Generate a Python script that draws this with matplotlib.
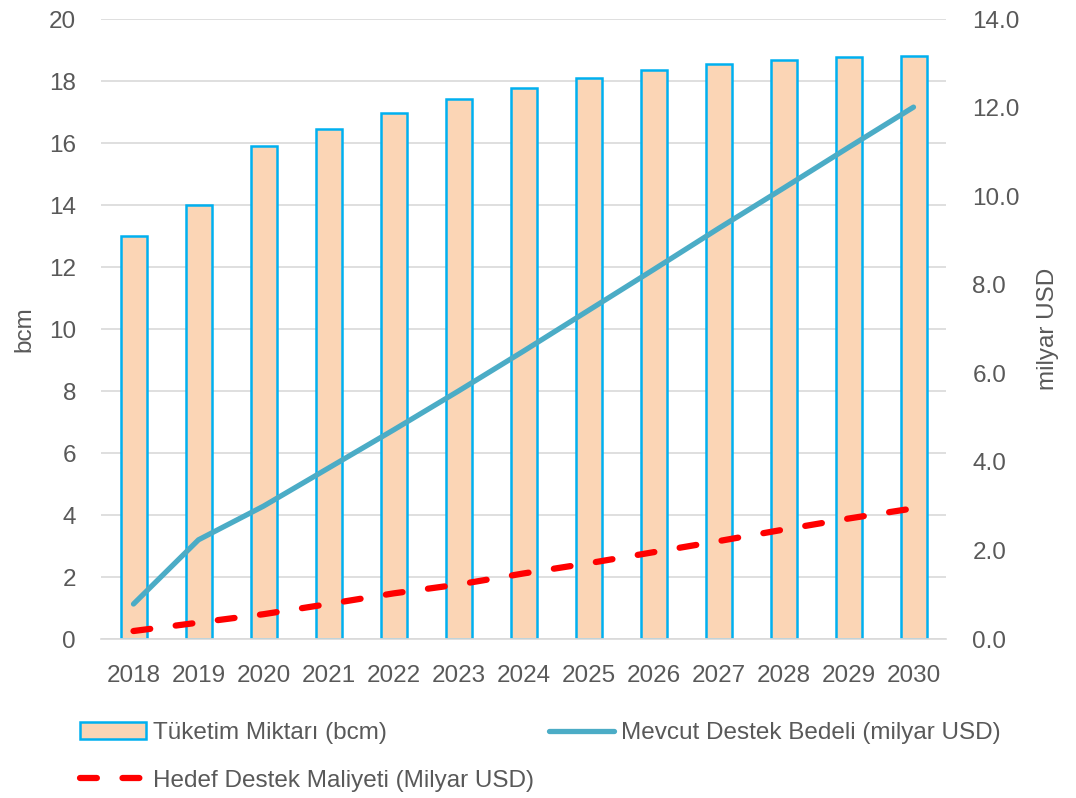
import matplotlib
matplotlib.use("Agg")
import matplotlib.pyplot as plt
from matplotlib import font_manager
import numpy as np

years = ["2018", "2019", "2020", "2021", "2022", "2023", "2024",
         "2025", "2026", "2027", "2028", "2029", "2030"]
consumption_bcm = [13.0, 14.0, 15.9, 16.45, 16.97, 17.42, 17.78,
                   18.1, 18.35, 18.56, 18.68, 18.76, 18.81]
current_support = [0.79, 2.24, 3.0, 3.86, 4.72, 5.6, 6.5,
                   7.42, 8.34, 9.27, 10.18, 11.1, 12.01]
target_support = [0.18, 0.37, 0.56, 0.79, 1.03, 1.23, 1.48,
                  1.71, 1.96, 2.21, 2.47, 2.72, 2.95]
left_ticks = [0, 2, 4, 6, 8, 10, 12, 14, 16, 18, 20]
right_ticks = [0, 2, 4, 6, 8, 10, 12, 14]

names = {f.name for f in font_manager.fontManager.ttflist}
fam = ["Liberation Sans Narrow", "Liberation Sans", "DejaVu Sans"]
fam = [f for f in fam if f in names] or ["DejaVu Sans"]
plt.rcParams["font.family"] = fam

txt = "#595959"
fs = 17.5

fig = plt.figure(figsize=(10.76, 7.98), dpi=100)
ax = fig.add_axes([101/1076, 1 - 639/798, (946-101)/1076, (639-19)/798])
x = np.arange(len(years))

bars = ax.bar(x, consumption_bcm, width=0.4, color="#FBD5B5",
              edgecolor="#00B0F0", linewidth=1.8, zorder=2,
              label="Tüketim Miktarı (bcm)")
ax.set_ylim(0, 20)
ax.set_xlim(-0.5, len(years) - 0.5)
ax.set_yticks(left_ticks)
ax.set_yticklabels([str(v) for v in left_ticks])
ax.set_xticks(x)
ax.set_xticklabels(years)
ax.grid(axis="y", color="#D9D9D9", linewidth=1.2, zorder=0)
ax.set_axisbelow(True)
for s in ["top", "right", "left"]:
    ax.spines[s].set_visible(False)
ax.spines["bottom"].set_color("#D9D9D9")
ax.spines["bottom"].set_linewidth(1.2)
ax.tick_params(axis="both", length=0, labelsize=fs, colors=txt)
ax.tick_params(axis="y", pad=18)
ax.tick_params(axis="x", pad=19)
ax.set_ylabel("bcm", fontsize=fs, color=txt, labelpad=10)

ax2 = ax.twinx()
ax2.set_ylim(0, 14)
ax2.set_yticks(right_ticks)
ax2.set_yticklabels([f"{v:.1f}" for v in right_ticks])
for s in ["top", "right", "left", "bottom"]:
    ax2.spines[s].set_visible(False)
ax2.tick_params(axis="y", length=0, labelsize=fs, colors=txt, pad=19)
ax2.set_ylabel("milyar USD", fontsize=fs, color=txt, labelpad=12)

l1, = ax2.plot(x, current_support, color="#4BACC6", linewidth=3.8,
               solid_capstyle="round", solid_joinstyle="round", zorder=3,
               label="Mevcut Destek Bedeli (milyar USD)")
l2, = ax2.plot(x, target_support, color="#FF0000", linewidth=4.5,
               linestyle=(0, (2.7, 4.1)), dash_capstyle="round", zorder=3,
               label="Hedef Destek Maliyeti (Milyar USD)")

leg = fig.legend([bars, l2, l1],
                 ["Tüketim Miktarı (bcm)", "Hedef Destek Maliyeti (Milyar USD)",
                  "Mevcut Destek Bedeli (milyar USD)"],
                 ncol=2, loc="upper left", bbox_to_anchor=(80/1076, 1 - 722/798),
                 frameon=False, fontsize=fs, labelcolor=txt,
                 handlelength=2.7, handletextpad=0.3, columnspacing=0.6,
                 labelspacing=1.05, borderaxespad=0, borderpad=0)

fig.savefig("out.png", dpi=100)
